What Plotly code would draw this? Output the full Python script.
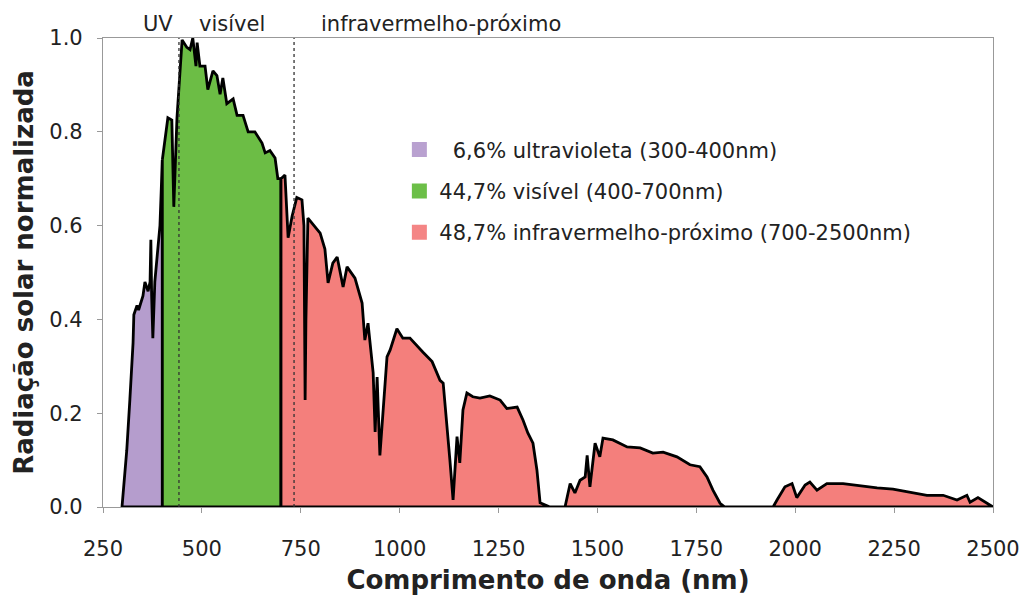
import plotly.graph_objects as go

# spectrum (wavelength in nm, normalised irradiance)
wavelength = [
    298, 301, 310, 318, 326, 328, 336, 340, 344, 351, 356, 364, 369, 371, 373,
    376, 381, 389, 394, 400,
    407, 414, 424, 429, 437, 445, 450, 462, 470, 477, 485, 488, 495, 508, 515,
    528, 538, 546, 553, 563, 579, 589, 604, 617, 634, 652, 660, 672, 685, 692,
    700,
    710, 718, 728, 740, 753, 758, 761, 763, 768, 799, 811, 819, 831, 842, 857,
    867, 887, 905, 912, 920, 933, 938, 943, 950, 968, 976, 993, 1008, 1026,
    1059, 1082, 1102, 1110, 1127, 1135, 1145, 1152, 1160, 1170, 1185, 1203,
    1228, 1254, 1271, 1297, 1312, 1324, 1337, 1347, 1355, 1380, 1418, 1431,
    1443, 1456, 1469, 1474, 1481, 1494, 1506, 1514, 1539, 1575, 1608, 1640,
    1666, 1701, 1734, 1759, 1777, 1792, 1810, 1822, 1880, 1944, 1954, 1974,
    1992, 2004, 2025, 2037, 2055, 2080, 2121, 2164, 2207, 2247, 2290, 2333,
    2374, 2409, 2434, 2442, 2462, 2485, 2500,
]
radiation = [
    0.0, 0.03, 0.12, 0.23, 0.35, 0.41, 0.43, 0.42, 0.43, 0.45, 0.48, 0.46, 0.48,
    0.57, 0.45, 0.36, 0.48, 0.55, 0.60, 0.74,
    0.78, 0.83, 0.825, 0.64, 0.83, 0.92, 0.996, 0.98, 0.975, 1.0, 0.94, 0.99,
    0.94, 0.94, 0.89, 0.93, 0.92, 0.88, 0.915, 0.86, 0.87, 0.835, 0.835, 0.80,
    0.80, 0.776, 0.755, 0.76, 0.744, 0.70, 0.70,
    0.708, 0.574, 0.62, 0.66, 0.655, 0.60, 0.228, 0.40, 0.616, 0.584, 0.55,
    0.478, 0.52, 0.533, 0.469, 0.512, 0.488, 0.435, 0.356, 0.392, 0.286, 0.16,
    0.277, 0.11, 0.32, 0.335, 0.38, 0.36, 0.36, 0.33, 0.31, 0.27, 0.264, 0.10,
    0.015, 0.15, 0.094, 0.207, 0.243, 0.235, 0.232, 0.237, 0.228, 0.21, 0.213,
    0.185, 0.158, 0.136, 0.079, 0.009, 0.0, 0.0, 0.05, 0.03, 0.057, 0.064,
    0.11, 0.043, 0.136, 0.107, 0.147, 0.143, 0.128, 0.126, 0.115, 0.117,
    0.107, 0.09, 0.086, 0.064, 0.036, 0.008, 0.0, 0.0, 0.0, 0.015, 0.043,
    0.05, 0.02, 0.047, 0.053, 0.036, 0.05, 0.05, 0.045, 0.041, 0.038, 0.032,
    0.025, 0.025, 0.015, 0.025, 0.01, 0.02, 0.008, 0.0,
]

band_labels = [
    "\u20076,6% ultravioleta (300-400nm)",
    "44,7% visível (400-700nm)",
    "48,7% infravermelho-próximo (700-2500nm)",
]
band_limits = [(298, 400), (400, 700), (700, 2500)]
band_colors = ["#b59dcd", "#6cbd45", "#f47f7c"]
legend_colors = ["#b9a1d0", "#6cbf48", "#f48585"]
band_edges = [442, 733]
top_labels = ["UV", "visível", "infravermelho-próximo"]

FONT = "DejaVu Sans, Liberation Sans, Arial, sans-serif"

fig = go.Figure()

for i, ((lo, hi), color) in enumerate(zip(band_limits, band_colors)):
    xs = [w for w in wavelength if lo <= w <= hi]
    ys = [r for w, r in zip(wavelength, radiation) if lo <= w <= hi]
    # closed outline so the band edges get the black border too
    fig.add_trace(go.Scatter(
        x=xs + [hi, lo, lo], y=ys + [0, 0, ys[0]],
        mode="lines", fill="toself", fillcolor=color,
        line=dict(color="black", width=2.8),
        hoverinfo="skip", showlegend=False,
    ))
    fig.add_trace(go.Scatter(
        x=[None], y=[None], mode="markers", name=band_labels[i],
        marker=dict(symbol="square", size=15, color=legend_colors[i]),
        legendgroup=f"g{i}",
    ))

for x in band_edges:
    fig.add_shape(type="line", x0=x, x1=x, y0=0, y1=1, xref="x", yref="y",
                  line=dict(color="#333333", width=1.3, dash="dot"))

for text, xp in zip(top_labels, [0.062, 0.145, 0.380]):
    fig.add_annotation(text=text, x=xp, y=1.0, xref="paper", yref="paper",
                       xanchor="center", yanchor="bottom", showarrow=False,
                       font=dict(size=21, color="#222222"))

fig.update_layout(
    width=1022, height=599,
    margin=dict(l=103, r=29, t=38, b=92),
    paper_bgcolor="white", plot_bgcolor="white",
    font=dict(family=FONT, color="#222222"),
    showlegend=True,
    legend=dict(x=0.333, y=0.805, xanchor="left", yanchor="top",
                font=dict(size=21), tracegroupgap=11, bgcolor="rgba(0,0,0,0)"),
)
fig.update_xaxes(
    range=[250, 2500], tickvals=list(range(250, 2501, 250)),
    automargin=False,
    showgrid=False, zeroline=False,
    showline=True, linecolor="#999999", linewidth=1.2, mirror=True,
    ticks="outside", ticklen=5, tickcolor="#999999",
    ticklabelstandoff=18,
    tickfont=dict(size=21),
    title=dict(text="<b>Comprimento de onda (nm)</b>", font=dict(size=26), standoff=10),
)
fig.update_yaxes(
    range=[0, 1.0], tickvals=[0, 0.2, 0.4, 0.6, 0.8, 1.0], tickformat=".1f",
    automargin=False,
    showgrid=False, zeroline=False,
    showline=True, linecolor="#999999", linewidth=1.2, mirror=True,
    ticks="outside", ticklen=5, tickcolor="#999999",
    ticklabelstandoff=10,
    tickfont=dict(size=21),
    title=dict(text="<b>Radiação solar normalizada</b>", font=dict(size=26), standoff=8),
)

# drop the default 8px body margin so the figure sits at the window origin
fig.write_html(
    "out.html",
    config={"displayModeBar": False},
    post_script="document.body.style.margin='0';",
)
